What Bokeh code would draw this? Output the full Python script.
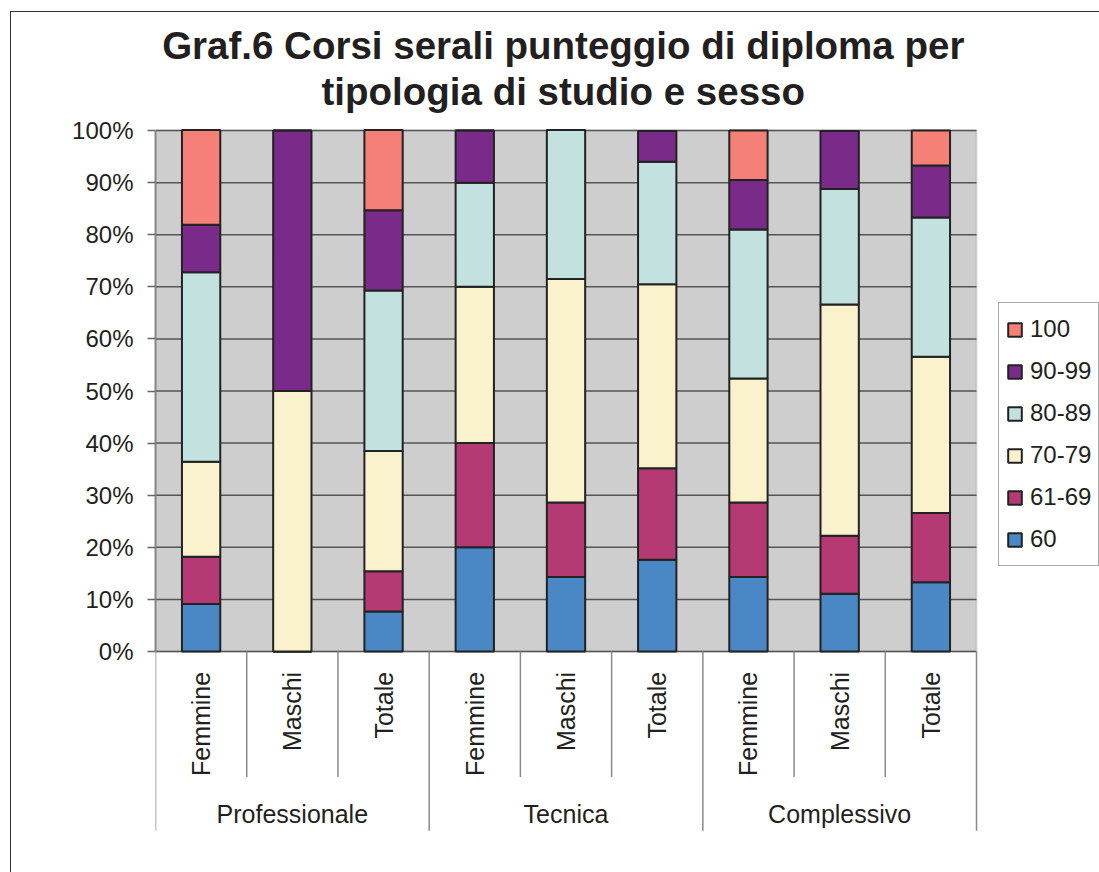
import math
from bokeh.plotting import figure
from bokeh.models import (ColumnDataSource, Range1d, FixedTicker, PrintfTickFormatter,
                          BoxAnnotation, Legend, LegendItem, InlineStyleSheet)
from bokeh.core.properties import value
from bokeh.embed import file_html
from bokeh.resources import INLINE

# ---- data (percent of graduates per score band) ----
groups = ["Professionale", "Tecnica", "Complessivo"]
subgroups = ["Femmine", "Maschi", "Totale"]
bands = ["60", "61-69", "70-79", "80-89", "90-99", "100"]

s60 = [9.1, 0.0, 7.7, 20.0, 14.3, 17.6, 14.3, 11.1, 13.3]
s61_69 = [9.1, 0.0, 7.7, 20.0, 14.3, 17.6, 14.3, 11.1, 13.3]
s70_79 = [18.2, 50.0, 23.1, 30.0, 42.9, 35.3, 23.8, 44.4, 30.0]
s80_89 = [36.4, 0.0, 30.8, 20.0, 28.6, 23.5, 28.6, 22.2, 26.7]
s90_99 = [9.1, 50.0, 15.4, 10.0, 0.0, 5.9, 9.5, 11.1, 10.0]
s100 = [18.2, 0.0, 15.4, 0.0, 0.0, 0.0, 9.5, 0.0, 6.7]

colors = ["#4A87C5", "#B53A73", "#FAF2CC", "#C2E1DF", "#7A2A89", "#F58078"]

y_ticks = [0, 10, 20, 30, 40, 50, 60, 70, 80, 90, 100]

title_lines = ["Graf.6 Corsi serali punteggio di diploma per", "tipologia di studio e sesso"]

FONT = "Liberation Sans"

n = len(groups) * len(subgroups)
xc = [i + 0.5 for i in range(n)]
sub_labels = [s for g in groups for s in subgroups]

src = ColumnDataSource(dict(x=xc, **{"60": s60, "61-69": s61_69, "70-79": s70_79,
                                      "80-89": s80_89, "90-99": s90_99, "100": s100}))

# frame: x 155..1099 (categories occupy 155..976), y 0..832 (0% at 651, 100% at 130)
PX = 5.21  # pixels per percent
p = figure(width=1099, height=872, output_backend="svg", toolbar_location=None,
           x_range=Range1d(0, 944 * n / 821),
           y_range=Range1d(-181 / PX, 100 + 130.04 / PX),
           x_axis_location=None, min_border_left=155, min_border_right=0,
           min_border_top=0, min_border_bottom=40)
p.stylesheets = [InlineStyleSheet(css="""
:host::after {
  content: "";
  position: absolute;
  left: 10px; top: 11px; width: 1200px; height: 1000px;
  border: 1.5px solid #333;
  pointer-events: none;
  z-index: 100;
}
""")]
p.background_fill_color = "white"
p.border_fill_color = "white"
p.outline_line_color = None
p.xgrid.visible = False
p.ygrid.visible = False

# title (two centred lines)
p.text(x=[4.47, 4.47], y=[100 + (130.04 - 45.5) / PX, 100 + (130.04 - 90.7) / PX],
       text=title_lines, text_align="center", text_baseline="alphabetic",
       text_font=value(FONT), text_font_size="38.5px", text_font_style="bold",
       text_color="#231F20")

# gray plot area 0..100 over the categories
p.add_layout(BoxAnnotation(left=0, right=n, bottom=0, top=100, fill_color="#CECECE",
                           fill_alpha=1, line_color="#999999", line_width=2,
                           level="image"))
# horizontal gridlines limited to the category area
p.segment(x0=[0] * len(y_ticks), y0=y_ticks, x1=[n] * len(y_ticks), y1=y_ticks,
          line_color="#555555", line_width=1.5)

renderers = p.vbar_stack(bands, x="x", width=0.42, source=src, color=colors,
                         line_color="#222222", line_width=2)

# y axis
ax = p.yaxis[0]
ax.ticker = FixedTicker(ticks=y_ticks)
ax.formatter = PrintfTickFormatter(format="%d%%")
ax.bounds = (0, 100)
ax.axis_line_color = "#888888"
ax.axis_line_width = 2
ax.major_tick_line_color = "#666666"
ax.major_tick_line_width = 1.5
ax.major_tick_out = 8
ax.major_tick_in = 0
ax.minor_tick_line_color = None
ax.major_label_standoff = 14
ax.major_label_text_font = FONT
ax.major_label_text_font_size = "24px"
ax.major_label_text_color = "#231F20"

# category separators below the axis
inner = [i for i in range(n + 1) if i % 3 != 0]
outer = [i for i in range(n + 1) if i % 3 == 0]
p.segment(x0=inner, y0=[0] * len(inner), x1=inner, y1=[-24.1] * len(inner),
          line_color="#8A8A8A", line_width=1.5)
p.segment(x0=outer, y0=[0] * len(outer), x1=outer, y1=[-34.4] * len(outer),
          line_color="#8A8A8A", line_width=1.5)

# sub-category labels (rotated)
p.text(x=xc, y=[-3.9] * n, text=sub_labels, angle=math.pi / 2,
       text_align="right", text_baseline="middle", text_font=value(FONT),
       text_font_size="25px", text_color="#231F20")
# group labels
p.text(x=[1.5, 4.5, 7.5], y=[-31.2] * 3, text=groups, text_align="center",
       text_baseline="middle", text_font=value(FONT), text_font_size="25px",
       text_color="#231F20")

items = [LegendItem(label=b, renderers=[r]) for b, r in zip(bands, renderers)][::-1]
legend = Legend(items=items, location=(843, 266), orientation="vertical",
                glyph_width=17, glyph_height=17, label_standoff=7, label_height=38,
                spacing=4, padding=7, margin=0,
                label_text_font=FONT, label_text_font_size="24px",
                label_text_color="#231F20", border_line_color="#555555",
                border_line_width=1.2, background_fill_color="white")
p.add_layout(legend, "center")

open("out.html", "w").write(file_html(p, INLINE))
